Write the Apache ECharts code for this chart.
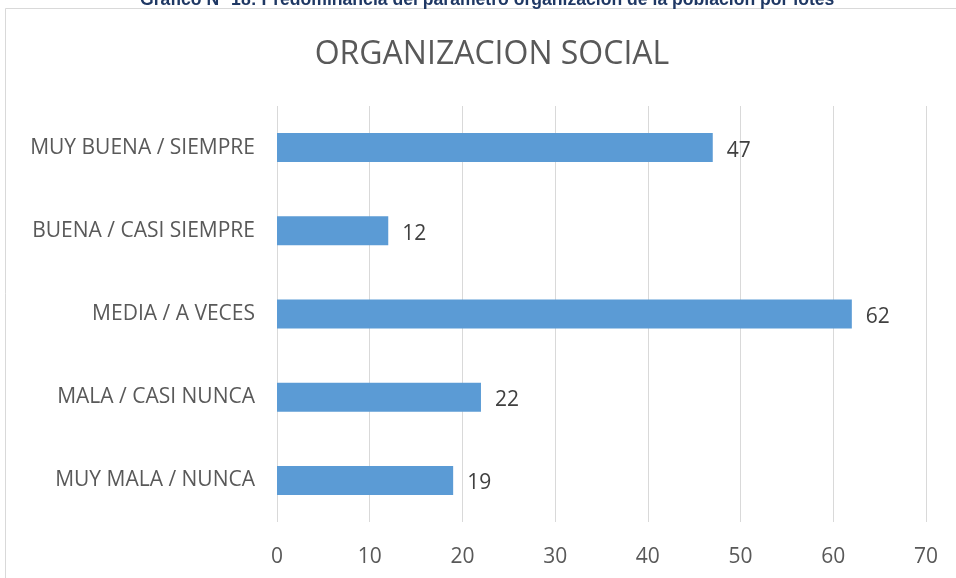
<!DOCTYPE html>
<html><head><meta charset="utf-8">
<script src="https://cdn.jsdelivr.net/npm/echarts@6/dist/echarts.min.js"></script>
<style>html,body{margin:0;padding:0;background:#fff}#c{width:956px;height:578px}</style>
</head><body><div id="c"></div>
<script>
var categories = ['MUY MALA / NUNCA','MALA / CASI NUNCA','MEDIA / A VECES','BUENA / CASI SIEMPRE','MUY BUENA / SIEMPRE'];
var values = [19, 22, 62, 12, 47];
var chartTitle = 'ORGANIZACION SOCIAL';
var caption = 'Gráfico N° 18: Predominancia del parámetro organización de la población por lotes';
var chart = echarts.init(document.getElementById('c'));
chart.setOption({
  animation: false,
  backgroundColor: '#fff',
  title: {text: chartTitle, left: 487, textAlign: 'center', top: 34,
    textStyle: {fontFamily: 'Open Sans', fontSize: 32, fontWeight: 'normal', color: '#595959'}},
  graphic: [
    {type: 'rect', shape: {x: 5.5, y: 8.5, width: 1000, height: 1000}, style: {fill: 'none', stroke: '#d9d9d9', lineWidth: 1}, z: 0},
    {type: 'text', left: 140, top: -9, style: {text: caption, font: 'bold 17.6px "Liberation Sans Narrow", "Liberation Sans", Arial', fill: '#1F3864'}}
  ],
  grid: {left: 277, right: 30, top: 106, bottom: 56},
  xAxis: {type: 'value', min: 0, max: 70, interval: 10,
    axisLine: {show: false}, axisTick: {show: false},
    splitLine: {lineStyle: {color: '#d9d9d9', width: 1}},
    axisLabel: {fontFamily: 'Open Sans', fontSize: 21, color: '#595959', margin: 25}},
  yAxis: {type: 'category', data: categories,
    axisLine: {show: false}, axisTick: {show: false},
    axisLabel: {fontFamily: 'Open Sans', fontSize: 21, color: '#595959', margin: 22, padding: [4, 0, 0, 0]}},
  series: [{type: 'bar', data: values, barWidth: 29, itemStyle: {color: '#5B9BD5'},
    label: {show: true, position: 'right', distance: 14, offset: [0, 3], fontFamily: 'Open Sans', fontSize: 21, color: '#404040'}}]
});
</script></body></html>
